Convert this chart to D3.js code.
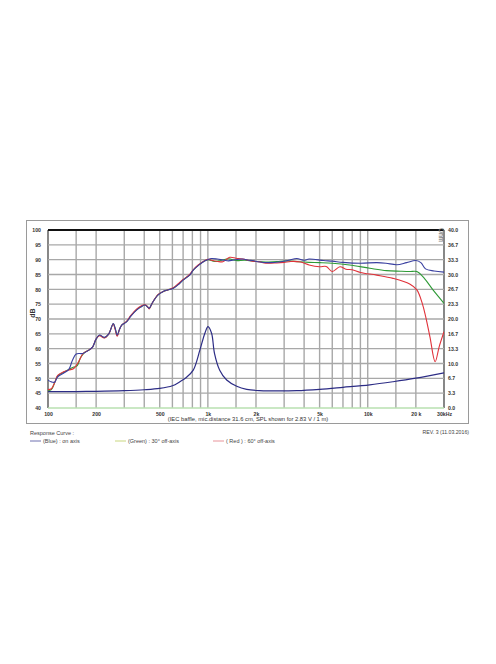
<!DOCTYPE html>
<html><head><meta charset="utf-8">
<script src="https://cdn.jsdelivr.net/npm/d3@7"></script>
<style>body{margin:0;background:#fff}svg{display:block}</style>
</head><body>
<svg id="c" width="496" height="664"></svg>
<script>
// ---- data ----
const dbTicks = [40,45,50,55,60,65,70,75,80,85,90,95,100];
const ohmTicks = [0,3.3,6.7,10,13.3,16.7,20,23.3,26.7,30,33.3,36.7,40];
const freqGrid = [100,150,200,300,400,500,600,700,800,900,1000,1500,2000,3000,4000,5000,6000,7000,8000,9000,10000,15000,20000,30000];
const freqTicks = [100,200,500,1000,2000,5000,10000,20000,30000];
const freqTickLabels = ["100","200","500","1k","2k","5k","10k","20 k","30kHz"];

const blueF = [100,105,110,115,125,135,142,150,165,180,190,200,210,225,240,256,263,271,280,290,310,330,358,380,404,420,429,450,489,526,560,606,650,700,770,810,870,937,1000,1050,1150,1240,1350,1450,1650,1800,1900,2100,2400,2800,3200,3600,4000,4300,5300,6000,7000,9000,11400,13000,15200,17500,20000,21500,23000,26000,30000];
const blueDb = [49.4,48.8,48.7,50.5,51.7,53,56,58.2,58.4,59.5,60.5,63.3,64.6,63.8,65,68.5,67,64.6,66.5,68,69,71,73,74,74.7,74,73.6,75.5,78.1,79.3,79.8,80.3,81.5,83.1,84.8,86.5,88,89.3,90,90.4,90.2,89.9,89.6,89.9,90.2,89.8,89.7,89.2,89,89.2,89.8,90.4,89.8,90.2,89.7,89.5,89.1,88.8,89,88.8,88.3,89,89.7,89,86.9,86.2,85.8];

const greenF = [100,105,110,115,125,135,145,152,160,170,180,190,200,210,225,240,256,263,271,280,290,310,330,358,380,404,420,429,450,489,526,560,606,650,700,770,810,870,937,1000,1100,1200,1350,1500,1700,2000,2300,2700,3200,3700,4300,5000,6000,7700,10300,13100,16000,18300,20300,22600,25600,30000];
const greenDb = [45.8,46.2,48.5,50.8,52,53,53.8,54.2,57,58.8,59.5,60.5,63.2,64.5,63.7,65,68.4,66.8,64.4,66.5,68,69.1,71.1,73.1,74.1,74.7,74.1,73.5,75.5,78.2,79.3,79.8,80.4,81.6,83.2,84.9,86.5,88.1,89.3,90,89.4,89.7,90.3,89.7,89.8,89.4,89.2,89.4,89.6,89.3,89.1,89,88.8,88.2,87.1,86.3,86.1,86,86,83.7,79.8,75.3];

const redF = [100,105,110,115,125,135,145,155,166,180,190,200,210,225,240,256,263,271,280,290,310,330,358,380,404,420,429,450,489,526,560,606,650,700,770,810,870,937,1000,1050,1150,1240,1370,1500,1650,1900,2100,2300,2700,3000,3300,3800,4300,5000,5500,6000,6700,7300,8000,9000,11400,14400,18300,20300,22000,23000,24500,26400,28000,30000];
const redDb = [46.2,46.5,48.5,51,52.2,52.8,53.3,55.5,58.4,59.5,60.5,63.3,64.4,63.6,65,68.3,66.5,64.2,66.5,68,69.2,71.2,73.3,74.3,74.8,74.2,73.4,75.5,78.3,79.3,79.8,80.5,81.8,83.3,85,86.6,88.2,89.4,90.1,89.8,89.4,89.3,90.8,90.5,90.2,89.5,89.3,88.8,88.9,89.1,89.4,89.2,88.2,87.6,87.7,86,87.6,86.8,86.6,85.7,84.8,83.7,81.8,79.8,75,71,64,55.6,60.7,65.7];

const impF = [100,150,200,300,400,500,600,668,730,810,891,958,1002,1055,1100,1186,1311,1516,1750,2100,2500,3600,5000,7000,10300,14400,20000,30000];
const impOhm = [3.7,3.7,3.75,3.9,4.1,4.4,5.0,5.9,6.8,8.5,13,16.8,18.3,16.8,12.3,8.5,6.3,4.9,4.2,3.9,3.85,3.9,4.2,4.65,5.2,5.9,6.7,7.9];

// ---- layout ----
const svg = d3.select("#c");
const L = 48, R = 444, T = 230, B = 408;
const x = d3.scaleLog().domain([100,30000]).range([L,R]);
const y = d3.scaleLinear().domain([40,100]).range([B,T]);
const yo = d3.scaleLinear().domain([0,40]).range([B,T]);
const font = "Liberation Sans, Arial, sans-serif";

// outer frame
svg.append("rect").attr("x",26.5).attr("y",220.5).attr("width",442).attr("height",203)
  .attr("fill","none").attr("stroke","#9a9a9a").attr("stroke-width",1);

// grid
const g = svg.append("g");
g.selectAll(".vg").data(freqGrid).join("line")
  .attr("x1",d=>x(d)).attr("x2",d=>x(d)).attr("y1",T).attr("y2",B)
  .attr("stroke",(d,i)=> (i===0||i===freqGrid.length-1)?"#555":"#a8a8a8").attr("stroke-width",1.4);
g.selectAll(".hg").data(dbTicks).join("line")
  .attr("x1",L).attr("x2",R).attr("y1",d=>y(d)).attr("y2",d=>y(d))
  .attr("stroke",d=> d===100?"#111": d===40?"#b8e0b0":"#a8a8a8")
  .attr("stroke-width",d=> d===100?1.8:1.4);

// left axis
const ax = d3.axisLeft(y).tickValues(dbTicks).tickSize(0).tickPadding(7);
svg.append("g").attr("transform",`translate(${L},0)`).call(ax)
  .call(s=>s.select(".domain").remove())
  .selectAll("text").attr("font-family",font).attr("font-size",5.2).attr("font-weight","bold").attr("fill","#333");
// right axis
const axr = d3.axisRight(yo).tickValues(ohmTicks).tickSize(0).tickPadding(4).tickFormat(d3.format(".1f"));
svg.append("g").attr("transform",`translate(${R},0)`).call(axr)
  .call(s=>s.select(".domain").remove())
  .selectAll("text").attr("font-family",font).attr("font-size",5.2).attr("font-weight","bold").attr("fill","#333");
// bottom axis
const axb = d3.axisBottom(x).tickValues(freqTicks).tickSize(0).tickPadding(4)
  .tickFormat((d,i)=>freqTickLabels[i]);
svg.append("g").attr("transform",`translate(0,${B})`).call(axb)
  .call(s=>s.select(".domain").remove())
  .selectAll("text").attr("font-family",font).attr("font-size",5.2).attr("font-weight","bold").attr("fill","#333");

svg.append("text").attr("transform","translate(35,313) rotate(-90)").attr("text-anchor","middle")
  .attr("font-family",font).attr("font-size",7).attr("font-weight","bold").attr("fill","#333").text("dB");
svg.append("text").attr("transform","translate(439,235) rotate(90)").attr("text-anchor","middle")
  .attr("font-family",font).attr("font-size",6.5).attr("fill","none").attr("stroke","#888").attr("stroke-width",0.4).text("Ohm");

// curves
const line = (fs,vs,ys) => d3.line().x((d,i)=>x(fs[i])).y((d,i)=>ys(vs[i])).curve(d3.curveCatmullRom.alpha(0.5))(vs);
const clip = svg.append("clipPath").attr("id","pc").append("rect").attr("x",L).attr("y",T).attr("width",R-L).attr("height",B-T);
const cg = svg.append("g").attr("clip-path","url(#pc)");
cg.append("path").attr("d",line(impF,impOhm,yo)).attr("fill","none").attr("stroke","#2c2c85").attr("stroke-width",1.2);
cg.append("path").attr("d",line(greenF,greenDb,y)).attr("fill","none").attr("stroke","#2e9a36").attr("stroke-width",1.1);
cg.append("path").attr("d",line(redF,redDb,y)).attr("fill","none").attr("stroke","#e0323a").attr("stroke-width",1.1);
cg.append("path").attr("d",line(blueF,blueDb,y)).attr("fill","none").attr("stroke","#3a40a0").attr("stroke-width",1.1);

// caption
svg.append("text").attr("x",248).attr("y",421).attr("text-anchor","middle")
  .attr("font-family",font).attr("font-size",5.8).attr("fill","#333")
  .text("(IEC baffle, mic.distance 31.6 cm, SPL shown for 2.83 V / 1 m)");
svg.append("text").attr("x",469).attr("y",434).attr("text-anchor","end")
  .attr("font-family",font).attr("font-size",5.2).attr("fill","#444").text("REV. 3 (11.03.2016)");
svg.append("text").attr("x",30).attr("y",435).attr("font-family",font).attr("font-size",5.5).attr("fill","#444").text("Response Curve :");

const legend = [
  {x:30, c:"#6f70b0", t:"(Blue)  : on axis"},
  {x:115, c:"#c9d77e", t:"(Green) : 30° off-axis"},
  {x:213, c:"#e8939a", t:"( Red ) : 60° off-axis"}
];
const lg = svg.append("g");
legend.forEach(d=>{
  lg.append("line").attr("x1",d.x).attr("x2",d.x+11).attr("y1",441).attr("y2",441).attr("stroke",d.c).attr("stroke-width",1);
  lg.append("text").attr("x",d.x+13).attr("y",443).attr("font-family",font).attr("font-size",5.5).attr("fill","#444").text(d.t);
});
</script>
</body></html>
